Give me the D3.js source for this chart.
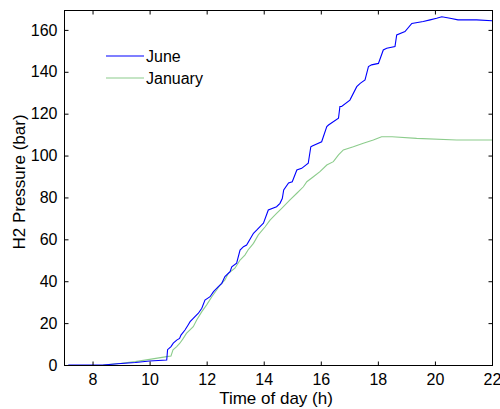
<!DOCTYPE html>
<html>
<head>
<meta charset="utf-8">
<script src="https://cdn.jsdelivr.net/npm/d3@7"></script>
<style>
  body { margin: 0; background: #fff; }
  svg { display: block; font-family: "Liberation Sans", Arial, sans-serif; }
</style>
</head>
<body>
<svg width="500" height="409"></svg>
<script>
// Data
var juneTime = [7.15, 8.37, 9.0, 9.5, 10.0, 10.6, 10.63, 10.75, 10.83, 10.95, 11.05, 11.1, 11.24, 11.35,
  11.42, 11.53, 11.71, 11.83, 11.94, 12.12, 12.24, 12.41, 12.53, 12.64, 12.82, 12.88, 13.05, 13.17,
  13.29, 13.40, 13.64, 13.76, 13.93, 13.99, 14.16, 14.45, 14.57, 14.65, 14.7, 14.87, 15.0, 15.16,
  15.33, 15.56, 15.65, 15.70, 16.03, 16.21, 16.27, 16.62, 16.67, 16.73, 17.02, 17.26, 17.38, 17.55,
  17.67, 17.78, 18.02, 18.19, 18.31, 18.60, 18.66, 18.95, 19.19, 19.59, 19.83, 20.06, 20.24, 20.53,
  20.81, 21.46, 22];
var junePressure = [0, 0, 0.7, 1.2, 1.9, 2.4, 7.3, 8.8, 10.4, 11.9, 12.7, 14.3, 16.7, 19.1,
  20.7, 22.3, 24.7, 27.1, 31, 32.6, 35, 37.4, 39, 42.2, 44.6, 46.9, 48.6, 54.9,
  56.5, 57.3, 62.9, 64.5, 66.9, 67.7, 74, 75.6, 77.2, 79.5, 83.6, 86.9, 87.5, 93.1,
  93.9, 96.3, 104.2, 104.6, 106.6, 113.8, 114.6, 117.8, 123.4, 123.4, 126.5, 132.9, 134.5, 136.1,
  142.5, 143.3, 144, 150.4, 151.2, 152, 157.6, 159.2, 163.1, 164, 164.8, 165.6, 166.3, 165.6,
  164.8, 164.8, 164.4];

var janTime = [8.37, 9.0, 9.5, 10.0, 10.6, 10.75, 10.82, 10.95, 11.06, 11.18, 11.29, 11.53, 11.65,
  11.83, 12.0, 12.18, 12.35, 12.47, 12.64, 12.76, 12.99, 13.17, 13.34, 13.45, 13.64, 13.81, 14.05,
  14.22, 14.45, 14.63, 14.92, 15.16, 15.39, 15.51, 15.74, 15.97, 16.21, 16.44, 16.62, 16.79, 17.14,
  17.49, 17.84, 18.13, 18.50, 19.36, 20.76, 22];
var janPressure = [0, 0.8, 1.6, 2.7, 4.0, 4.3, 7.2, 8.8, 10.4, 12.7, 15.1, 18.3, 21.5,
  25.5, 28.7, 32.6, 35.8, 38.2, 40.6, 43.8, 46.2, 50.1, 52.5, 54.9, 58.1, 62.1, 66,
  69.2, 72.4, 74.8, 78.8, 82, 85.1, 87.5, 89.9, 92.3, 95.5, 97.1, 100.3, 102.7, 104.2,
  105.9, 107.4, 109, 109, 108.2, 107.4, 107.4];

var seriesNames = ["June", "January"];
var xTicks = [8, 10, 12, 14, 16, 18, 20, 22];
var yTicks = [0, 20, 40, 60, 80, 100, 120, 140, 160];

var colors = {June: "#0000ff", January: "#8ccc8c"};

var svg = d3.select("svg");
var m = {left: 64, right: 492, top: 10, bottom: 365};

var x = d3.scaleLinear().domain([7, 22]).range([m.left, m.right]);
var y = d3.scaleLinear().domain([0, 169.5]).range([m.bottom, m.top]);

var series = [
  {name: "June", pts: juneTime.map((t, i) => [t, junePressure[i]])},
  {name: "January", pts: janTime.map((t, i) => [t, janPressure[i]])}
];

var line = d3.line().x(d => x(d[0])).y(d => y(d[1]));

// lines (January under June)
svg.append("g").selectAll("path")
  .data(series.slice().reverse()).enter().append("path")
  .attr("d", d => line(d.pts))
  .attr("fill", "none")
  .attr("stroke", d => colors[d.name])
  .attr("stroke-width", 1.1);

// frame
svg.append("rect")
  .attr("x", m.left + 0.5).attr("y", m.top + 0.5)
  .attr("width", m.right - m.left).attr("height", m.bottom - m.top)
  .attr("fill", "none").attr("stroke", "#000").attr("stroke-width", 1);

// axes with inward ticks
var xb = svg.append("g").attr("transform", "translate(0," + (m.bottom + 0.5) + ")")
  .call(d3.axisBottom(x).tickValues(xTicks).tickSizeInner(-4).tickSizeOuter(0).tickPadding(8));
var xt = svg.append("g").attr("transform", "translate(0," + (m.top + 0.5) + ")")
  .call(d3.axisTop(x).tickValues(xTicks).tickSizeInner(-4).tickSizeOuter(0).tickFormat(""));
var yl = svg.append("g").attr("transform", "translate(" + (m.left + 0.5) + ",0)")
  .call(d3.axisLeft(y).tickValues(yTicks).tickSizeInner(-4).tickSizeOuter(0).tickPadding(7));
var yr = svg.append("g").attr("transform", "translate(" + (m.right + 0.5) + ",0)")
  .call(d3.axisRight(y).tickValues(yTicks).tickSizeInner(-4).tickSizeOuter(0).tickFormat(""));

[xb, xt, yl, yr].forEach(function(g) {
  g.select(".domain").remove();
  g.selectAll("line").attr("stroke", "#000");
  g.selectAll("text").attr("font-size", "16px").attr("fill", "#000")
    .attr("font-family", "Liberation Sans, Arial, sans-serif");
});

// axis labels
svg.append("text")
  .attr("x", 276).attr("y", 404)
  .attr("text-anchor", "middle")
  .attr("font-size", "17px")
  .text("Time of day (h)");

svg.append("text")
  .attr("transform", "translate(25,182) rotate(-90)")
  .attr("text-anchor", "middle")
  .attr("font-size", "17px")
  .text("H2 Pressure (bar)");

// legend
var legend = svg.append("g").selectAll("g")
  .data(seriesNames).enter().append("g")
  .attr("transform", (d, i) => "translate(106," + (56 + i * 22) + ")");
legend.append("line")
  .attr("x1", 0).attr("x2", 38)
  .attr("stroke", d => colors[d]).attr("stroke-width", 1.1);
legend.append("text")
  .attr("x", 40).attr("y", 0).attr("dy", "0.36em")
  .attr("font-size", "16px")
  .text(d => d);
</script>
</body>
</html>
